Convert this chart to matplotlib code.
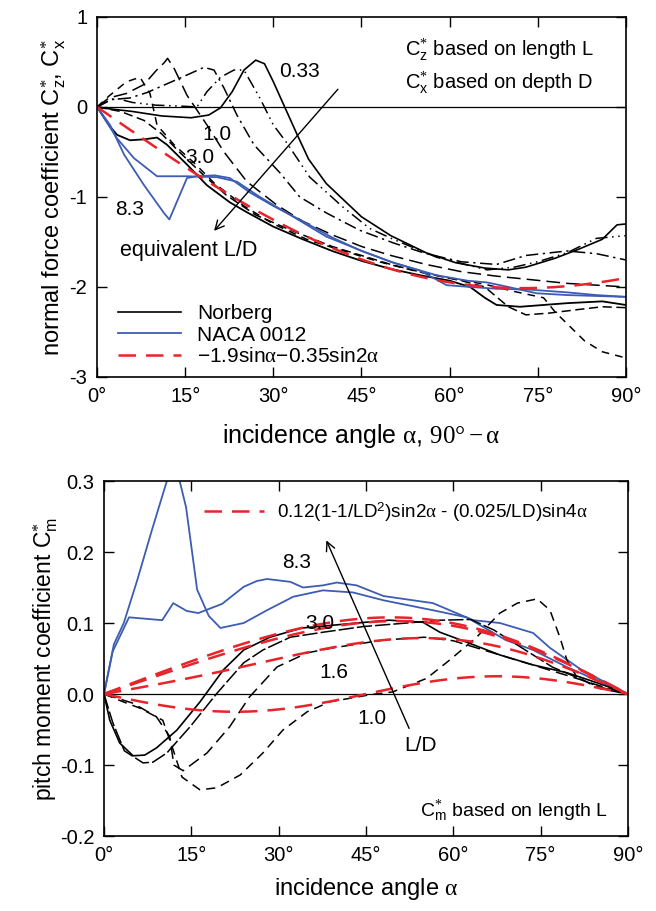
import numpy as np
import matplotlib
matplotlib.use("Agg")
import matplotlib.pyplot as plt

plt.rcParams["font.family"] = ["Liberation Sans", "DejaVu Sans"]
plt.rcParams["mathtext.fontset"] = "custom"
plt.rcParams["mathtext.rm"] = "Liberation Serif"
plt.rcParams["mathtext.it"] = "Liberation Serif:italic"
plt.rcParams["mathtext.sf"] = "Liberation Sans"
plt.rcParams["mathtext.bf"] = "Liberation Serif:bold"
plt.rcParams["font.size"] = 14

BLUE = "#3d5db3"
RED = "#e8242a"

# ---------------- top panel data (normal force coefficient) ----------------
# Norberg curves, different L/D (deg, value)
n1_deg = [0, 2, 6, 11, 16, 19, 21, 23, 25, 27, 28.5, 30, 32, 34, 36, 39, 45, 50, 56, 61, 66, 70, 73, 78, 82, 86, 88.5, 90]
n1_val = [0, -0.02, -0.05, -0.1, -0.12, -0.09, -0.01, 0.17, 0.41, 0.52, 0.48, 0.28, -0.01, -0.3, -0.58, -0.85, -1.22,
          -1.43, -1.62, -1.73, -1.79, -1.81, -1.78, -1.68, -1.58, -1.47, -1.31, -1.3]
n2_deg = [0, 3, 6, 10, 14, 17, 18.7, 21, 23.3, 25, 27.7, 30, 32.3, 36.2, 41.8, 46.4, 50.4, 57.8, 66.4, 71, 75, 80, 85, 90]
n2_val = [0, 0.1, 0.05, 0.02, 0.01, 0.0, 0.17, 0.33, 0.41, 0.41, 0.1, -0.2, -0.4, -0.78, -1.11, -1.35, -1.47, -1.67,
          -1.81, -1.78, -1.72, -1.62, -1.46, -1.43]
n3_deg = [0, 2.2, 5.6, 8.5, 14.1, 18.2, 19.9, 21.6, 23.8, 26.7, 31.1, 34.5, 39.1, 44.7, 50.4, 56, 62, 68, 73, 80, 85, 90]
n3_val = [0, 0.08, 0.1, 0.16, 0.32, 0.44, 0.41, 0.21, -0.09, -0.42, -0.73, -1.0, -1.18, -1.37, -1.51, -1.63, -1.72,
          -1.75, -1.65, -1.6, -1.63, -1.7]
n4_deg = [0, 2, 5, 8, 10, 11.4, 12, 13.1, 15.3, 18.7, 21.6, 25.5, 30.6, 35, 40, 45, 50, 56, 62, 68, 74, 80, 85, 90]
n4_val = [0, 0.1, 0.15, 0.25, 0.4, 0.49, 0.54, 0.43, 0.13, -0.2, -0.5, -0.83, -1.09, -1.27, -1.42, -1.55, -1.65,
          -1.75, -1.83, -1.88, -1.92, -1.96, -1.98, -2.0]
n5_deg = [0, 2, 5, 7.3, 9, 10.2, 13.1, 16.5, 20, 25, 30, 36, 42, 48, 54, 60, 66, 71, 76, 78, 80.5, 83, 86, 89.5, 90]
n5_val = [0, 0.12, 0.28, 0.33, 0.15, -0.2, -0.42, -0.62, -0.85, -1.1, -1.3, -1.48, -1.6, -1.72, -1.82, -1.9, -1.97,
          -2.05, -2.12, -2.28, -2.44, -2.6, -2.72, -2.78, -2.78]
n6_deg = [0, 4, 8, 11, 14, 18, 22, 27, 33, 40, 45, 50, 56, 62, 66, 70, 73, 77, 82, 86, 90]
n6_val = [0, -0.05, -0.15, -0.3, -0.5, -0.75, -0.98, -1.2, -1.37, -1.55, -1.65, -1.75, -1.85, -1.93, -2.0, -2.22,
          -2.31, -2.29, -2.25, -2.22, -2.23]
n7_deg = [0, 2, 3.4, 5.6, 8, 10.2, 11.9, 15.3, 18.7, 22.6, 25.5, 30, 35, 40, 45, 50, 55, 60, 63.5, 66, 68, 72, 80, 86, 90]
n7_val = [0, -0.2, -0.31, -0.37, -0.36, -0.34, -0.42, -0.64, -0.87, -1.06, -1.17, -1.33, -1.47, -1.6, -1.71, -1.8,
          -1.87, -1.93, -2.0, -2.12, -2.2, -2.22, -2.18, -2.16, -2.2]

# NACA 0012 curves
naca1_deg = [0, 3.4, 6.3, 10.2, 15.3, 20.4, 23.8, 27.7, 33.4, 39, 44.7, 50.4, 57.8, 63, 66.4, 70, 74.8, 80, 85, 90]
naca1_val = [0, -0.35, -0.57, -0.77, -0.77, -0.78, -0.83, -1.0, -1.22, -1.44, -1.59, -1.73, -1.87, -1.93, -1.95,
             -2.0, -2.07, -2.09, -2.1, -2.11]
naca2_deg = [0, 2.2, 4.6, 8, 11.4, 12.3, 15.3, 17, 20, 22.6, 26, 30, 35, 40, 45, 50, 55, 59.5, 63.5, 68, 73.7, 80, 85, 90]
naca2_val = [0, -0.2, -0.53, -0.87, -1.18, -1.25, -0.79, -0.77, -0.76, -0.79, -0.95, -1.1, -1.27, -1.45, -1.6,
             -1.72, -1.82, -1.98, -2.0, -2.02, -2.03, -2.06, -2.09, -2.11]

alpha_deg = np.arange(0, 90.5, 1.0)

# ---------------- bottom panel data (pitch moment coefficient) ----------------
cm_s_deg = [0, 1, 2.7, 5, 7, 9, 12.5, 16.5, 20.5, 24, 28.5, 34, 43.5, 49, 54.8, 57.7, 62.3, 68, 73.7, 79.5, 85, 90]
cm_s_val = [0, -0.037, -0.069, -0.087, -0.086, -0.076, -0.051, -0.011, 0.034, 0.062, 0.08, 0.093, 0.1, 0.104,
            0.101, 0.087, 0.073, 0.055, 0.041, 0.03, 0.015, 0]
cm_t_deg = [0, 1.5, 3.5, 6.7, 8.4, 10.8, 14.8, 19.4, 24, 27.3, 32, 37.6, 44.5, 52, 58, 63, 67, 71, 77, 85, 90]
cm_t_val = [0, -0.04, -0.08, -0.097, -0.096, -0.083, -0.046, 0.001, 0.044, 0.062, 0.08, 0.087, 0.095, 0.1, 0.104,
            0.105, 0.09, 0.069, 0.038, 0.01, 0]
cm_u_deg = [0, 5, 9, 11.3, 12, 13.6, 17.7, 21.6, 25, 29.7, 34.9, 39.3, 48, 55, 60, 66, 72, 80, 85, 90]
cm_u_val = [0, -0.013, -0.032, -0.06, -0.1, -0.108, -0.083, -0.046, -0.004, 0.038, 0.058, 0.065, 0.076, 0.08,
            0.075, 0.06, 0.045, 0.025, 0.012, 0]
cm_d_deg = [0, 3, 6.2, 10.1, 11.9, 13.4, 16.5, 19.4, 23.4, 27.3, 30.7, 34.9, 38.8, 45.7, 49.6, 55.4, 59.4, 64, 68,
            71, 74.4, 76.6, 78.3, 79.5, 81.2, 85, 90]
cm_d_val = [0, -0.01, -0.02, -0.037, -0.079, -0.117, -0.135, -0.132, -0.114, -0.083, -0.051, -0.025, -0.011,
            -0.001, 0.003, 0.022, 0.048, 0.08, 0.114, 0.128, 0.134, 0.118, 0.08, 0.048, 0.024, 0.008, 0]

cmb1_deg = [0, 1.7, 3.4, 5.7, 8.2, 10.8, 12, 13, 14.1, 16, 18, 20, 24, 28, 32.5, 37.6, 42.8, 48, 56.5, 62.3, 69,
            73.7, 79.5, 90]
cmb1_val = [0, 0.07, 0.1, 0.16, 0.23, 0.30, 0.32, 0.30, 0.263, 0.147, 0.11, 0.093, 0.1, 0.118, 0.137, 0.146,
            0.143, 0.132, 0.118, 0.108, 0.076, 0.062, 0.038, 0]
cmb2_deg = [0, 1.5, 4.3, 10, 11.9, 14.2, 16.2, 20.3, 24, 26.2, 28, 32, 34.2, 37.6, 40, 43.4, 48, 56.5, 63.4, 68,
            73.7, 76.6, 82, 90]
cmb2_val = [0, 0.06, 0.108, 0.104, 0.128, 0.117, 0.114, 0.127, 0.151, 0.159, 0.162, 0.158, 0.15, 0.153, 0.157,
            0.153, 0.138, 0.128, 0.104, 0.1, 0.086, 0.065, 0.034, 0]

ld_values = [1.0, 1.6, 2.5, 3.0]

xticks = [0, 15, 30, 45, 60, 75, 90]
xticklabels = ["0°", "15°", "30°", "45°", "60°", "75°", "90°"]

fig = plt.figure(figsize=(6.56, 9.11), dpi=100)
ax1 = fig.add_axes([0.148, 0.5862, 0.806, 0.3952])
ax2 = fig.add_axes([0.1585, 0.0823, 0.7988, 0.3897])

# ---- top ----
ax1.axhline(0, color="black", lw=0.9)
ax1.plot(n1_deg, n1_val, color="black", lw=1.2, label="Norberg")
ax1.plot(n2_deg, n2_val, color="black", lw=1.1, ls=(0, (8, 3, 1, 3, 1, 3)))
ax1.plot(n3_deg, n3_val, color="black", lw=1.1, ls=(0, (8, 3, 1.5, 3)))
ax1.plot(n4_deg, n4_val, color="black", lw=1.1, ls=(0, (9, 4)))
ax1.plot(n5_deg, n5_val, color="black", lw=1.1, ls=(0, (5, 4)))
ax1.plot(n6_deg, n6_val, color="black", lw=1.1, ls=(0, (6, 3)))
ax1.plot(n7_deg, n7_val, color="black", lw=1.3)
ax1.plot(naca1_deg, naca1_val, color=BLUE, lw=1.3, label="NACA 0012")
ax1.plot(naca2_deg, naca2_val, color=BLUE, lw=1.3)
a = np.radians(alpha_deg)
ax1.plot(alpha_deg, -1.9 * np.sin(a) - 0.35 * np.sin(2 * a), color=RED, lw=1.8, ls=(0, (7, 4)),
         label="\u22121.9sin$\\mathrm{\\alpha}$\u22120.35sin2$\\mathrm{\\alpha}$")

ax1.set_xlim(0, 90)
ax1.set_ylim(-3, 1)
ax1.set_xticks(xticks)
ax1.set_xticklabels(xticklabels)
ax1.set_yticks([1, 0, -1, -2, -3])
ax1.set_yticklabels(["1", "0", "-1", "-2", "-3"])
ax1.set_xlabel("incidence angle $\\mathrm{\\alpha}$, $\\mathrm{90°-\\alpha}$", fontsize=18, labelpad=12)
ax1.set_ylabel("normal force coefficient C$^{*}_{\\mathsf{z}}$, C$^{*}_{\\mathsf{x}}$", fontsize=17, labelpad=1)

ax1.text(34.5, 0.39, "0.33", ha="center", va="center", fontsize=15)
ax1.text(20.4, -0.31, "1.0", ha="center", va="center", fontsize=15)
ax1.text(17.5, -0.56, "3.0", ha="center", va="center", fontsize=15)
ax1.text(5.6, -1.14, "8.3", ha="center", va="center", fontsize=15)
ax1.text(3.9, -1.6, "equivalent L/D", ha="left", va="center", fontsize=15.5)
ax1.text(52.4, 0.63, "C$^{*}_{\\mathsf{z}}$ based on length L", ha="left", va="center", fontsize=14.5)
ax1.text(52.4, 0.27, "C$^{*}_{\\mathsf{x}}$ based on depth D", ha="left", va="center", fontsize=14.5)
ax1.annotate("", xy=(19.6, -1.4), xytext=(41.3, 0.22),
             arrowprops=dict(arrowstyle="->", color="black", lw=1.0, mutation_scale=16))

ax1.legend(loc="lower left", bbox_to_anchor=(0.04, 0.03), frameon=False, fontsize=15,
           handlelength=3.0, handletextpad=0.8, labelspacing=0.12, borderpad=0, borderaxespad=0)

# ---- bottom ----
ax2.axhline(0, color="black", lw=0.9)
ax2.plot(cmb1_deg, cmb1_val, color=BLUE, lw=1.3)
ax2.plot(cmb2_deg, cmb2_val, color=BLUE, lw=1.3)
ax2.plot(cm_s_deg, cm_s_val, color="black", lw=1.2)
ax2.plot(cm_t_deg, cm_t_val, color="black", lw=1.1, ls=(0, (10, 2)))
ax2.plot(cm_u_deg, cm_u_val, color="black", lw=1.1, ls=(0, (8, 4)))
ax2.plot(cm_d_deg, cm_d_val, color="black", lw=1.1, ls=(0, (6, 4)))
for i, ld in enumerate(ld_values):
    cm = 0.12 * (1 - 1 / ld ** 2) * np.sin(2 * a) - (0.025 / ld) * np.sin(4 * a)
    lab = "0.12(1-1/LD$^{\\mathsf{2}}$)sin2$\\mathrm{\\alpha}$ - (0.025/LD)sin4$\\mathrm{\\alpha}$" if i == 0 else None
    ax2.plot(alpha_deg, cm, color=RED, lw=1.8, ls=(0, (7, 4)), label=lab)

ax2.set_xlim(0, 90)
ax2.set_ylim(-0.2, 0.3)
ax2.set_xticks(xticks)
ax2.set_xticklabels(xticklabels)
ax2.set_yticks([0.3, 0.2, 0.1, 0.0, -0.1, -0.2])
ax2.set_yticklabels(["0.3", "0.2", "0.1", "0.0", "-0.1", "-0.2"])
ax2.set_xlabel("incidence angle $\\mathrm{\\alpha}$", fontsize=17, labelpad=8)
ax2.set_ylabel("pitch moment coefficient C$^{*}_{\\mathsf{m}}$", fontsize=16.5, labelpad=0)

ax2.text(33.1, 0.185, "8.3", ha="center", va="center", fontsize=15)
ax2.text(37.1, 0.1, "3.0", ha="center", va="center", fontsize=15)
ax2.text(39.5, 0.031, "1.6", ha="center", va="center", fontsize=15)
ax2.text(46.0, -0.034, "1.0", ha="center", va="center", fontsize=15)
ax2.text(54.3, -0.072, "L/D", ha="center", va="center", fontsize=15)
ax2.text(86.6, -0.165, "C$^{*}_{\\mathsf{m}}$ based on length L", ha="right", va="center", fontsize=14)
ax2.annotate("", xy=(38.0, 0.22), xytext=(52.6, -0.052),
             arrowprops=dict(arrowstyle="->", color="black", lw=1.0, mutation_scale=16))

ax2.legend(loc="center left", bbox_to_anchor=(0.19, 0.913), frameon=False, fontsize=13.6,
           handlelength=3.2, handletextpad=0.7, borderpad=0, borderaxespad=0)

for ax in (ax1, ax2):
    ax.tick_params(direction="in", length=7, width=1, top=True, right=True, labelsize=14.5, pad=7)
    for sp in ax.spines.values():
        sp.set_linewidth(1.2)

fig.savefig("out.png", dpi=100)
